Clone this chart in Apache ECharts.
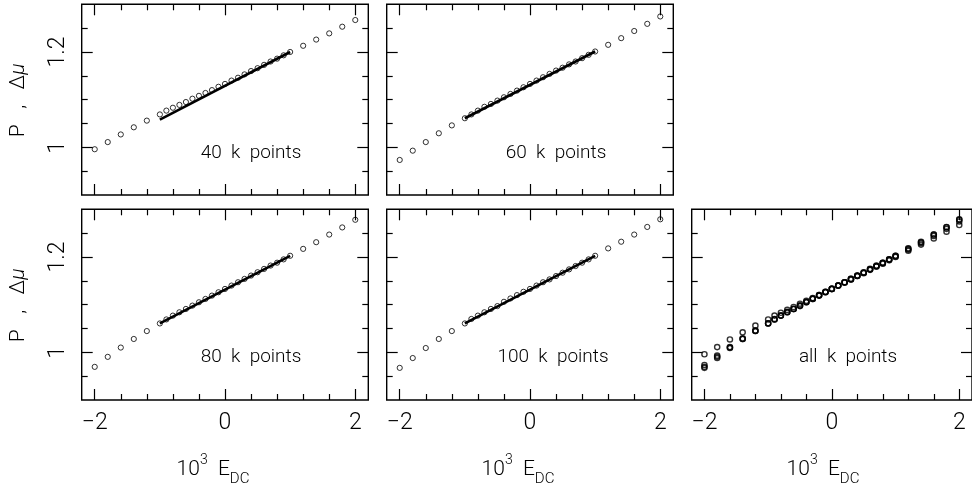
<!DOCTYPE html>
<html><head><meta charset="utf-8">
<script src="https://cdn.jsdelivr.net/npm/echarts@6/dist/echarts.min.js"></script>
<style>html,body{margin:0;padding:0;background:#fff}#c{width:972px;height:496px}</style>
</head><body><div id="c"></div>
<script>
// ---- data ----
const xValues = [-2.0, -1.8, -1.6, -1.4, -1.2,
  -1.0, -0.9, -0.8, -0.7, -0.6, -0.5, -0.4, -0.3, -0.2, -0.1, 0.0,
  0.1, 0.2, 0.3, 0.4, 0.5, 0.6, 0.7, 0.8, 0.9, 1.0,
  1.2, 1.4, 1.6, 1.8, 2.0];
const y40k = [0.996, 1.011, 1.027, 1.042, 1.056,
  1.069, 1.077, 1.083, 1.089, 1.095, 1.102, 1.108, 1.114, 1.120, 1.127, 1.133,
  1.140, 1.146, 1.153, 1.160, 1.166, 1.173, 1.180, 1.186, 1.193, 1.200,
  1.213, 1.226, 1.239, 1.253, 1.267];
const y60k = [0.9735, 0.993, 1.011, 1.0295, 1.046,
  1.061, 1.069, 1.077, 1.085, 1.091, 1.098, 1.105, 1.112, 1.119, 1.126, 1.133,
  1.140, 1.147, 1.154, 1.161, 1.167, 1.174, 1.180, 1.187, 1.194, 1.201,
  1.215, 1.229, 1.244, 1.259, 1.2745];
const y80k = [0.9695, 0.9905, 1.010, 1.028, 1.0446,
  1.0606, 1.069, 1.077, 1.084, 1.091, 1.098, 1.105, 1.112, 1.119, 1.126, 1.133,
  1.140, 1.147, 1.154, 1.161, 1.168, 1.175, 1.182, 1.188, 1.195, 1.2025,
  1.217, 1.231, 1.247, 1.262, 1.278];
const y100k = [0.9674, 0.988, 1.009, 1.028, 1.0446,
  1.0606, 1.070, 1.077, 1.084, 1.091, 1.097, 1.106, 1.113, 1.120, 1.127, 1.133,
  1.140, 1.147, 1.153, 1.160, 1.167, 1.174, 1.181, 1.188, 1.195, 1.2025,
  1.218, 1.232, 1.247, 1.263, 1.279];
const lineX = [-1, 1];
const line40k = [1.058, 1.200];
const line60k = [1.061, 1.201];
const line80k = [1.0606, 1.2025];
const line100k = [1.0606, 1.2025];
const panelLabels = ['40 k points', '60 k points', '80 k points', '100 k points', 'all k points'];
const xMajorTicks = [-2, 0, 2];
const xMinorTicks = [-1.6, -1.2, -0.8, -0.4, 0.4, 0.8, 1.2, 1.6];
const yMajorTicks = [1, 1.2];
const yMinorTicks = [0.95, 1.05, 1.1, 1.15, 1.25];

// ---- layout ----
const FONT = 'Roboto';
const FW = 300;
const PW = 286.6, PH = 190.7;
const panels = [
  {left: 81.7,  top: 4.3,   xl: false, yl: true,  sets: [[y40k, line40k]], showLine: true, lab: [251, 153], bw: 1},
  {left: 386.7, top: 4.3,   xl: false, yl: false, sets: [[y60k, line60k]], showLine: true, lab: [556, 153], bw: 1},
  {left: 81.7,  top: 209.3, xl: true,  yl: true,  sets: [[y80k, line80k]], showLine: true, lab: [251, 357], bw: 1},
  {left: 386.7, top: 209.3, xl: true,  yl: false, sets: [[y100k, line100k]], showLine: true, lab: [553, 357], bw: 1},
  {left: 691.7, top: 209.3, xl: true,  yl: false, sets: [[y40k, line40k], [y60k, line60k], [y80k, line80k], [y100k, line100k]], showLine: false, lab: [848, 357], bw: 1.4}
];

const grid = [], xAxis = [], yAxis = [], series = [], graphic = [];
const fmt = v => v < 0 ? '\u2212' + Math.abs(v) : String(v);
const tickStyle = {color: '#000', width: 1.2};

panels.forEach((p, gi) => {
  grid.push({left: p.left, top: p.top, width: PW, height: PH, show: true,
    borderColor: '#000', borderWidth: 1.4, backgroundColor: 'transparent'});
  const xBase = xAxis.length, yBase = yAxis.length;
  ['bottom', 'top'].forEach(pos => {
    [[xMajorTicks, 11], [xMinorTicks, 6]].forEach(([vals, len], k) => {
      xAxis.push({type: 'value', gridIndex: gi, position: pos, min: -2.2, max: 2.2,
        axisLine: {show: false, onZero: false}, splitLine: {show: false},
        axisTick: {show: true, inside: true, length: len, customValues: vals, lineStyle: tickStyle},
        axisLabel: {show: p.xl && pos === 'bottom' && k === 0, customValues: xMajorTicks,
          formatter: fmt, fontFamily: FONT, fontWeight: FW, fontSize: 23, color: '#000', margin: 12}});
    });
  });
  ['left', 'right'].forEach(pos => {
    [[yMajorTicks, 11], [yMinorTicks, 6]].forEach(([vals, len], k) => {
      yAxis.push({type: 'value', gridIndex: gi, position: pos, min: 0.9, max: 1.3,
        axisLine: {show: false, onZero: false}, splitLine: {show: false},
        axisTick: {show: true, inside: true, length: len, customValues: vals, lineStyle: tickStyle},
        axisLabel: {show: p.yl && pos === 'left' && k === 0, customValues: yMajorTicks, rotate: 90,
          fontFamily: FONT, fontWeight: FW, fontSize: 23, color: '#000', margin: 12}});
    });
  });
  p.sets.forEach(([ys, ln]) => {
    if (p.showLine) {
      series.push({type: 'line', xAxisIndex: xBase, yAxisIndex: yBase, z: 2,
        data: lineX.map((x, i) => [x, ln[i]]), symbol: 'none',
        lineStyle: {color: '#000', width: 2.6}, silent: true});
    }
    series.push({type: 'scatter', xAxisIndex: xBase, yAxisIndex: yBase, z: 3,
      data: xValues.map((x, i) => [x, ys[i]]), symbol: 'circle', symbolSize: 5.2,
      itemStyle: {color: 'rgba(255,255,255,0)', borderColor: '#000', borderWidth: p.bw}, silent: true});
  });
  graphic.push({type: 'text', x: p.lab[0], y: p.lab[1],
    style: {text: panelLabels[gi].replace(/ /g, '  '), font: FW + ' 19px ' + FONT, fill: '#000',
      align: 'center', verticalAlign: 'middle'}});
  if (p.yl) {
    graphic.push({type: 'text', x: 19, y: p.top + 96, rotation: Math.PI / 2,
      style: {text: '{n|P   ,   \u0394}{i|\u03bc}', align: 'center', verticalAlign: 'middle',
        rich: {n: {fontFamily: FONT, fontWeight: FW, fontSize: 21, fill: '#000'},
               i: {fontFamily: FONT, fontWeight: FW, fontSize: 21, fontStyle: 'italic', fill: '#000'}}}});
  }
  if (p.xl) {
    graphic.push({type: 'text', x: p.left + PW / 2 - 12, y: 470,
      style: {text: '{n|10}{sup|3}{n|  E}{sub|DC}', align: 'center', verticalAlign: 'middle',
        rich: {n: {fontFamily: FONT, fontWeight: FW, fontSize: 21, fill: '#000', lineHeight: 34},
               sup: {fontFamily: FONT, fontWeight: FW, fontSize: 14, fill: '#000', verticalAlign: 'top', lineHeight: 34},
               sub: {fontFamily: FONT, fontWeight: FW, fontSize: 15, fill: '#000', verticalAlign: 'bottom', lineHeight: 34}}}});
  }
});

const chart = echarts.init(document.getElementById('c'), null, {renderer: 'canvas'});
chart.setOption({animation: false, backgroundColor: '#fff', grid, xAxis, yAxis, series, graphic});
</script></body></html>
